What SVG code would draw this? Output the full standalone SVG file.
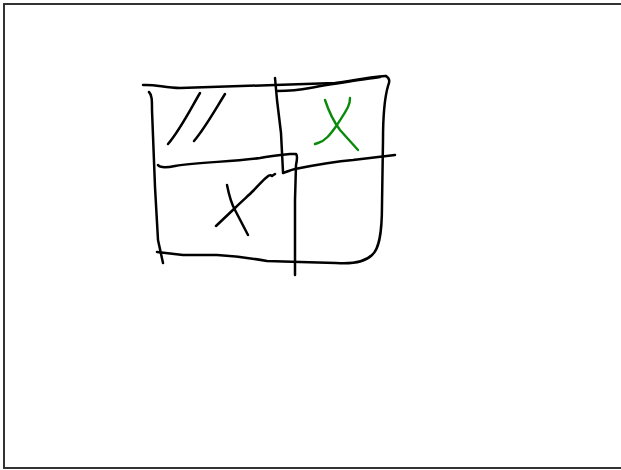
<svg xmlns="http://www.w3.org/2000/svg" width="621" height="470" viewBox="0 0 621 470">
<style>
.ink{fill:none;stroke:#000;stroke-width:2.5;stroke-linecap:round;stroke-linejoin:round}
.green{fill:none;stroke:#0a8a0a;stroke-width:2.4;stroke-linecap:round;stroke-linejoin:round}
</style>
<rect x="0" y="0" width="621" height="470" fill="#fff"/>
<rect x="4" y="4" width="640" height="464" fill="none" stroke="#333" stroke-width="2"/>
<g id="grid">
<path class="ink" d="M143,85 C155,84 165,88 180,88 L275,85 L335,83 C360,80 375,76 386,76"/>
<path class="ink" d="M386,76 C391,79 389,83 388,86 C384,100 383,120 383,140 L382,205 C382,238 378,250 372,255 C364,263 350,264 336,263 L300,262 L267,261 C250,258 235,256 217,255 L183,255 L157,252"/>
<path class="ink" d="M149,92 C152,95 152,100 152,110 L155,187 L158,240 L163,263"/>
<path class="ink" d="M275,78 L277,100 L281,133 L283,172"/>
<path class="ink" d="M277,91 C290,91 300,90 310,88 C330,84 360,80 380,77"/>
<path class="ink" d="M158,165 C160,168 165,168 175,166 C200,162 230,162 260,158 C270,156 280,155 290,154 L296,154 C298,156 297,160 296,165 L295,200 L295,275"/>
<path class="ink" d="M283,173 C287,172 290,170 295,169 C310,166 330,162 353,160 L395,155"/>
</g>
<g id="cell-hatch">
<path class="ink" d="M200,93 C190,110 180,130 168,144"/>
<path class="ink" d="M225,94 C215,110 205,128 194,141"/>
</g>
<g id="cell-x-green">
<path class="green" d="M325,100 C330,115 334,122 340,130 L358,150"/>
<path class="green" d="M350,98 C350,102 349,105 348,107 C344,115 340,120 337,125 C330,135 325,141 318,143 L315,144"/>
</g>
<g id="cell-x-black">
<path class="ink" d="M216,226 L235,208 C242,201 248,196 253,191 C258,186 263,180 267,177 C269,175 271,175 272,176 L275,174"/>
<path class="ink" d="M227,185 C229,195 231,203 235,210 L248,235"/>
</g>
</svg>
